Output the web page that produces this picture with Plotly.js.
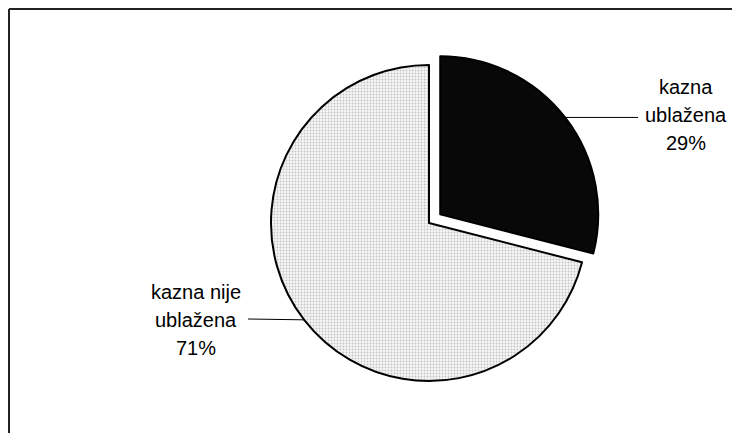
<!DOCTYPE html>
<html>
<head>
<meta charset="utf-8">
<script src="https://cdn.plot.ly/plotly-3.0.1.min.js"></script>
<style>
html,body{margin:0;padding:0;background:#fff;}
#chart{width:732px;height:433px;}
</style>
</head>
<body>
<div id="chart"></div>
<script>
// ---- data ----
var categories = ["kazna ublažena", "kazna nije ublažena"];
var labelLines = [["kazna", "ublažena"], ["kazna nije", "ublažena"]];
var values = [29, 71];
var pulls = [0.09, 0];
var percentLabels = ["29%", "71%"];

// ---- layout constants (pixels) ----
var W = 732, H = 433;
var cx = 429, cy = 223;          // pie centre
var maxPull = Math.max.apply(null, pulls);
var R = 158;                      // pie radius
var ryPx = 2 * R * (1 + maxPull);
var domY = [1 - (cy + ryPx / 2) / H, 1 - (cy - ryPx / 2) / H];
var domX = [(cx - 250) / W, (cx + 250) / W];

// label block positions (centre of middle line) and leader-line text ends
var labelCentre = [[686, 115], [196, 320]];
var leaderEnd = [[638, null], [248, 319]];
var lineGap = 28;

var total = values.reduce(function (a, b) { return a + b; }, 0);
var annotations = [];
var shapes = [];
var start = 0;
values.forEach(function (v, i) {
  var mid = (start + v / 2) / total * 2 * Math.PI; // clockwise from top
  start += v;
  var sx = Math.sin(mid), sy = -Math.cos(mid);
  var pcx = cx + pulls[i] * R * sx, pcy = cy + pulls[i] * R * sy;
  var ex = pcx + R * sx, ey = pcy + R * sy;
  var endX = leaderEnd[i][0];
  var endY = leaderEnd[i][1] === null ? ey : leaderEnd[i][1];
  shapes.push({type: 'line', xref: 'paper', yref: 'paper',
    x0: ex / W, y0: 1 - ey / H, x1: endX / W, y1: 1 - endY / H,
    line: {color: '#000', width: 1}});
  var lines = labelLines[i].concat([percentLabels[i]]);
  lines.forEach(function (t, k) {
    annotations.push({text: t, xref: 'paper', yref: 'paper',
      x: labelCentre[i][0] / W, y: 1 - (labelCentre[i][1] + (k - 1) * lineGap) / H,
      xanchor: 'center', yanchor: 'middle', showarrow: false,
      font: {family: 'Liberation Sans, Arial, sans-serif', size: 20, color: '#000'}});
  });
});

// frame (top and left edges)
shapes.push({type: 'line', xref: 'paper', yref: 'paper', x0: 9 / W, y0: 1 - 9 / H, x1: 1, y1: 1 - 9 / H, line: {color: '#222', width: 2}});
shapes.push({type: 'line', xref: 'paper', yref: 'paper', x0: 9 / W, y0: 1 - 9 / H, x1: 9 / W, y1: 0, line: {color: '#222', width: 2}});

var trace = {
  type: 'pie',
  labels: categories,
  values: values,
  pull: pulls,
  sort: false,
  direction: 'clockwise',
  rotation: 0,
  textinfo: 'none',
  hoverinfo: 'label+percent',
  domain: {x: domX, y: domY},
  marker: {
    colors: ['#080808', '#e8e8e8'],
    line: {color: '#000', width: 2},
    pattern: {shape: ['', '.'], fgcolor: ['#080808', '#c4c4c4'], bgcolor: ['#080808', '#f6f6f6'], size: 3, solidity: 0.3}
  }
};

var layout = {
  width: W, height: H,
  margin: {l: 0, r: 0, t: 0, b: 0},
  paper_bgcolor: '#fff',
  showlegend: false,
  annotations: annotations,
  shapes: shapes
};

Plotly.newPlot('chart', [trace], layout, {displayModeBar: false, staticPlot: true});
</script>
</body>
</html>
